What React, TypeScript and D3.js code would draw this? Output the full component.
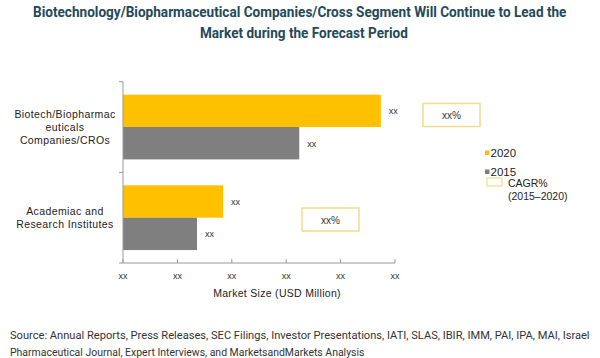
import { useLayoutEffect, useRef } from "react";
import * as d3 from "d3";

const categories = ["Biotech/Biopharmaceuticals Companies/CROs", "Academiac and Research Institutes"];
const categoryLines = [
  ["Biotech/Biopharmac", "euticals", "Companies/CROs"],
  ["Academiac and", "Research Institutes"],
];
const years = ["2020", "2015"];
const values2020 = [47.4, 18.4];
const values2015 = [32.4, 13.6];
const cagrLabels = ["xx%", "xx%"];
const xTicks = [0, 10, 20, 30, 40, 50];
const titleLines = [
  "Biotechnology/Biopharmaceutical Companies/Cross Segment Will Continue to Lead the",
  "Market during the Forecast Period",
];
const sourceLines = [
  "Source: Annual Reports, Press Releases, SEC Filings, Investor Presentations, IATI, SLAS, IBIR, IMM, PAI, IPA, MAI, Israel",
  "Pharmaceutical Journal, Expert Interviews, and MarketsandMarkets Analysis",
];

const W = 600;
const H = 358;
const yellow = "#FFC000";
const grey = "#7F7F7F";
const boxStroke = "#F2DC8C";
const titleColor = "#24495a";
const titleFont = "Roboto, 'Liberation Sans', Arial, sans-serif";
const sans = "'Liberation Sans', Arial, sans-serif";

// squeezes a text horizontally so it fills the given width (the original uses a condensed face)
function FitText({ x, y, width, children, ...rest }: any) {
  const ref = useRef<SVGTextElement>(null);
  useLayoutEffect(() => {
    const el = ref.current;
    if (!el) return;
    const natural = el.getComputedTextLength();
    const s = natural > 0 ? width / natural : 1;
    el.setAttribute("transform", `translate(${x},${y}) scale(${s},1)`);
  }, [x, y, width, children]);
  return (
    <text ref={ref} x={0} y={0} transform={`translate(${x},${y})`} {...rest}>
      {children}
    </text>
  );
}

export default function App() {
  const x = d3.scaleLinear().domain([0, 50]).range([123, 395]);
  const y = d3.scaleBand().domain(categories).range([81.7, 263]);
  const inner = d3.scaleBand().domain(years).range([0, y.bandwidth()]).paddingOuter(0.4).paddingInner(0);

  const series = [values2020, values2015];
  const colors = [yellow, grey];

  return (
    <svg width={W} height={H} style={{ position: "absolute", left: 0, top: 0, background: "#fff" }}>
      {/* title */}
      <FitText x={33} y={16.5} width={534} fontFamily={titleFont} fontWeight="bold" fontSize={15.5} fill={titleColor}>
        {titleLines[0]}
      </FitText>
      <FitText x={200} y={37.5} width={208} fontFamily={titleFont} fontWeight="bold" fontSize={15.5} fill={titleColor}>
        {titleLines[1]}
      </FitText>

      {/* bars */}
      {categories.map((c, ci) =>
        series.map((vals, si) => {
          const by = (y(c) ?? 0) + (inner(years[si]) ?? 0);
          return (
            <g key={c + si}>
              <rect x={x(0)} y={by} width={x(vals[ci]) - x(0)} height={inner.bandwidth()} fill={colors[si]} />
              <text x={x(vals[ci]) + 8} y={by + inner.bandwidth() / 2 + 3.5} fontFamily={sans} fontSize={9} fill="#333">
                xx
              </text>
            </g>
          );
        })
      )}

      {/* y axis */}
      <line x1={x(0)} x2={x(0)} y1={y.range()[0]} y2={y.range()[1]} stroke="#999" />
      {[y.range()[0], ...categories.map((c) => (y(c) ?? 0) + y.bandwidth())].map((t, i) => (
        <line key={i} x1={x(0) - 4} x2={x(0)} y1={t} y2={t} stroke="#999" />
      ))}
      {categories.map((c, ci) => {
        const lines = categoryLines[ci];
        const cy = (y(c) ?? 0) + y.bandwidth() / 2;
        return (
          <text key={c} x={65} textAnchor="middle" fontFamily={sans} fontSize={10.5} fill="#222" letterSpacing={0.4}>
            {lines.map((l, li) => (
              <tspan key={li} x={65} y={cy + (li - (lines.length - 1) / 2) * 12.8 + 3.8}>
                {l}
              </tspan>
            ))}
          </text>
        );
      })}

      {/* x axis */}
      <line x1={x(0)} x2={x(50)} y1={263} y2={263} stroke="#999" />
      {xTicks.map((t) => (
        <g key={t}>
          <line x1={x(t)} x2={x(t)} y1={263} y2={259} stroke="#999" />
          <text x={x(t)} y={279} textAnchor="middle" fontFamily={sans} fontSize={9} fill="#333">
            xx
          </text>
        </g>
      ))}
      <text x={277} y={297} textAnchor="middle" fontFamily={sans} fontSize={10.5} fill="#222" letterSpacing={0.3}>
        Market Size (USD Million)
      </text>

      {/* CAGR boxes */}
      {[
        { bx: 423, by: 103.5 },
        { bx: 302, by: 208 },
      ].map((b, i) => (
        <g key={i}>
          <rect x={b.bx} y={b.by} width={57} height={23} fill="#fff" stroke={boxStroke} strokeWidth={1.5} />
          <text x={b.bx + 28.5} y={b.by + 15.5} textAnchor="middle" fontFamily={sans} fontSize={10} fill="#333">
            {cagrLabels[i]}
          </text>
        </g>
      ))}

      {/* legend */}
      <rect x={485} y={150.5} width={4.5} height={4.5} fill={yellow} />
      <text x={490.5} y={157} fontFamily={sans} fontSize={11.5} fill="#222">2020</text>
      <rect x={485} y={169.5} width={4.5} height={4.5} fill={grey} />
      <text x={490.5} y={176} fontFamily={sans} fontSize={11.5} fill="#222">2015</text>
      <rect x={487} y={178} width={15} height={8} fill="#fff" stroke={boxStroke} strokeWidth={1.2} />
      <text x={508} y={187} fontFamily={sans} fontSize={10.5} fill="#222">CAGR%</text>
      <text x={508} y={200} fontFamily={sans} fontSize={10.5} fill="#222">(2015–2020)</text>

      {/* source */}
      <FitText x={10} y={339} width={580} fontFamily={titleFont} fontSize={11} fill="#333">
        {sourceLines[0]}
      </FitText>
      <FitText x={10} y={356} width={355} fontFamily={titleFont} fontSize={11} fill="#333">
        {sourceLines[1]}
      </FitText>
    </svg>
  );
}
